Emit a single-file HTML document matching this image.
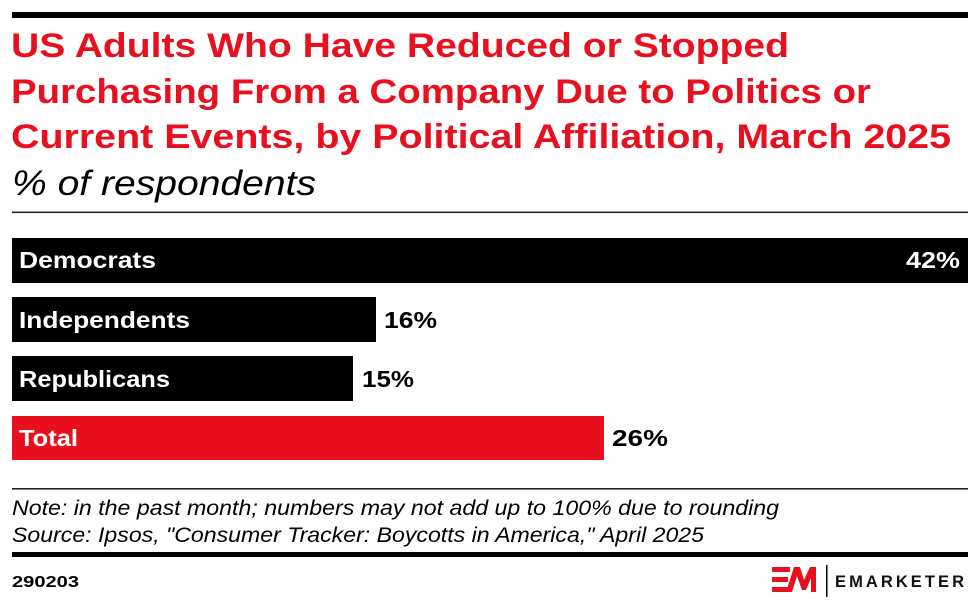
<!DOCTYPE html>
<html>
<head>
<meta charset="utf-8">
<style>
  html, body { margin: 0; padding: 0; background: #fff; }
  svg { display: block; }
  text { font-family: "Liberation Sans", Arial, sans-serif; }
</style>
</head>
<body>
<svg width="980" height="608" viewBox="0 0 980 608" xmlns="http://www.w3.org/2000/svg">
  <rect x="0" y="0" width="980" height="608" fill="#ffffff"/>
  <!-- top thick rule -->
  <rect x="12" y="12" width="956" height="6" fill="#000"/>

  <!-- title -->
  <g fill="#e8101e" font-weight="bold" font-size="34">
    <text x="11" y="57" textLength="778" lengthAdjust="spacingAndGlyphs">US Adults Who Have Reduced or Stopped</text>
    <text x="11" y="103" textLength="860" lengthAdjust="spacingAndGlyphs">Purchasing From a Company Due to Politics or</text>
    <text x="11" y="148" textLength="940" lengthAdjust="spacingAndGlyphs">Current Events, by Political Affiliation, March 2025</text>
  </g>
  <text x="12" y="195" font-size="35" font-style="italic" fill="#000" textLength="304" lengthAdjust="spacingAndGlyphs">% of respondents</text>

  <!-- rule under subtitle -->
  <rect x="12" y="211.5" width="956" height="1.6" fill="#222"/>

  <!-- bars -->
  <rect x="12" y="238" width="956" height="45" fill="#000"/>
  <rect x="12" y="297" width="364" height="45" fill="#000"/>
  <rect x="12" y="356" width="341" height="45" fill="#000"/>
  <rect x="12" y="416" width="592" height="44" fill="#e8101e"/>

  <g font-weight="bold" font-size="23">
    <text x="19" y="268" fill="#fff" textLength="137" lengthAdjust="spacingAndGlyphs">Democrats</text>
    <text x="19" y="328" fill="#fff" textLength="171" lengthAdjust="spacingAndGlyphs">Independents</text>
    <text x="19" y="387" fill="#fff" textLength="151" lengthAdjust="spacingAndGlyphs">Republicans</text>
    <text x="19" y="446" fill="#fff" textLength="59" lengthAdjust="spacingAndGlyphs">Total</text>

    <text x="906" y="268" fill="#fff" textLength="54" lengthAdjust="spacingAndGlyphs">42%</text>
    <text x="384" y="328" fill="#000" textLength="53" lengthAdjust="spacingAndGlyphs">16%</text>
    <text x="362" y="387" fill="#000" textLength="52" lengthAdjust="spacingAndGlyphs">15%</text>
    <text x="612" y="446" fill="#000" textLength="56" lengthAdjust="spacingAndGlyphs">26%</text>
  </g>

  <!-- notes rule -->
  <rect x="12" y="488" width="956" height="1.6" fill="#222"/>
  <g font-style="italic" font-size="21" fill="#000">
    <text x="12" y="515" textLength="767" lengthAdjust="spacingAndGlyphs">Note: in the past month; numbers may not add up to 100% due to rounding</text>
    <text x="12" y="542" textLength="692" lengthAdjust="spacingAndGlyphs">Source: Ipsos, "Consumer Tracker: Boycotts in America," April 2025</text>
  </g>

  <!-- bottom thick rule -->
  <rect x="12" y="552" width="956" height="5" fill="#000"/>

  <text x="12" y="587" font-weight="bold" font-size="16" fill="#000" textLength="67" lengthAdjust="spacingAndGlyphs">290203</text>

  <!-- logo -->
  <g fill="#e8101e">
    <rect x="772" y="567" width="18" height="5"/>
    <rect x="772" y="577" width="16" height="5"/>
    <rect x="772" y="587" width="18" height="5"/>
    <polygon points="786,592 794,567 800,567 804,580 810,567 816,567 816,592 811,592 811,578 806,590 802,590 797,576 792,592"/>
  </g>
  <rect x="826" y="565" width="1.5" height="32" fill="#000"/>
  <text x="835" y="587" font-weight="bold" font-size="16.5" fill="#111" textLength="129" lengthAdjust="spacing">EMARKETER</text>
</svg>
</body>
</html>
